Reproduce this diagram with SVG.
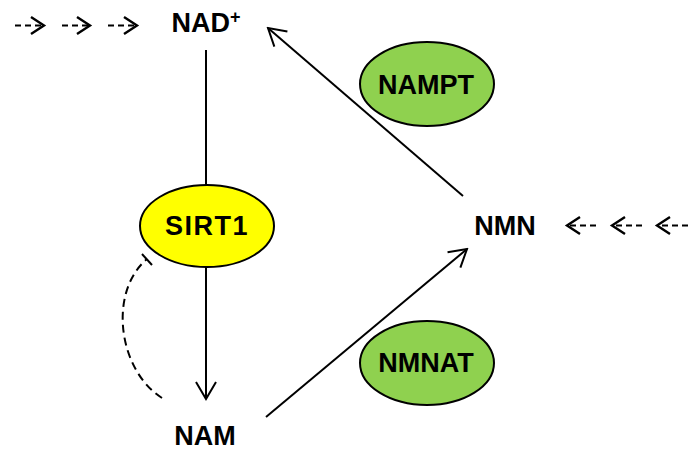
<svg xmlns="http://www.w3.org/2000/svg" width="688" height="453" viewBox="0 0 688 453">
<style>
.lbl{font-family:"Liberation Sans",Arial,sans-serif;font-weight:bold;font-size:27px;fill:#000;text-anchor:middle}
.edge{fill:none;stroke:#000;stroke-width:2}
.dash{fill:none;stroke:#000;stroke-width:2;stroke-dasharray:6,4}
.curve{fill:none;stroke:#000;stroke-width:2;stroke-dasharray:8,5}
.chev{fill:none;stroke:#000;stroke-width:2.4}
.green{fill:#8FD14F;stroke:#000;stroke-width:2}
</style>
<defs>
<marker id="open" markerUnits="userSpaceOnUse" markerWidth="20" markerHeight="22" viewBox="0 0 20 22" refX="18" refY="11" orient="auto">
<path d="M1,1 L18,11 L1,21" fill="none" stroke="#000" stroke-width="2"/>
</marker>
</defs>
<g id="connectors">
<line class="edge" x1="206" y1="50" x2="206" y2="186"/>
<line class="edge" x1="206" y1="266" x2="206" y2="399" marker-end="url(#open)"/>
<line class="edge" x1="463" y1="196" x2="268" y2="28" marker-end="url(#open)"/>
<line class="edge" x1="266" y1="417" x2="467" y2="249" marker-end="url(#open)"/>
<path class="curve" d="M162,398 C118,370 108,292 147,259"/>
<line class="edge" x1="142" y1="254" x2="152" y2="265"/>
<g id="in-arrows-left">
<line class="dash" x1="15" y1="25.5" x2="43" y2="25.5"/>
<polyline class="chev" points="31,17 44,25.5 31,34"/>
<line class="dash" x1="62" y1="25.5" x2="89" y2="25.5"/>
<polyline class="chev" points="77,17 90,25.5 77,34"/>
<line class="dash" x1="108" y1="25.5" x2="136" y2="25.5"/>
<polyline class="chev" points="124,17 137,25.5 124,34"/>
</g>
<g id="in-arrows-right">
<line class="dash" x1="596" y1="225.5" x2="568" y2="225.5"/>
<polyline class="chev" points="580,217 567,225.5 580,234"/>
<line class="dash" x1="642" y1="225.5" x2="613" y2="225.5"/>
<polyline class="chev" points="625,217 612,225.5 625,234"/>
<line class="dash" x1="688" y1="225.5" x2="658" y2="225.5"/>
<polyline class="chev" points="670,217 657,225.5 670,234"/>
</g>
</g>
<g id="NAD">
<text class="lbl" x="206" y="32">NAD<tspan font-size="18" dy="-9">+</tspan></text>
</g>
<g id="SIRT1">
<ellipse cx="207" cy="226" rx="67" ry="41" fill="#FFFF00" stroke="#000" stroke-width="2"/>
<text class="lbl" x="207" y="235" font-size="25" letter-spacing="1.5">SIRT1</text>
</g>
<g id="NAM">
<text class="lbl" x="205" y="445">NAM</text>
</g>
<g id="NMN">
<text class="lbl" x="505" y="235">NMN</text>
</g>
<g id="NAMPT">
<ellipse class="green" cx="427" cy="84" rx="67" ry="42"/>
<text class="lbl" x="426" y="94">NAMPT</text>
</g>
<g id="NMNAT">
<ellipse class="green" cx="427" cy="363" rx="67" ry="42"/>
<text class="lbl" x="426" y="372">NMNAT</text>
</g>
</svg>
